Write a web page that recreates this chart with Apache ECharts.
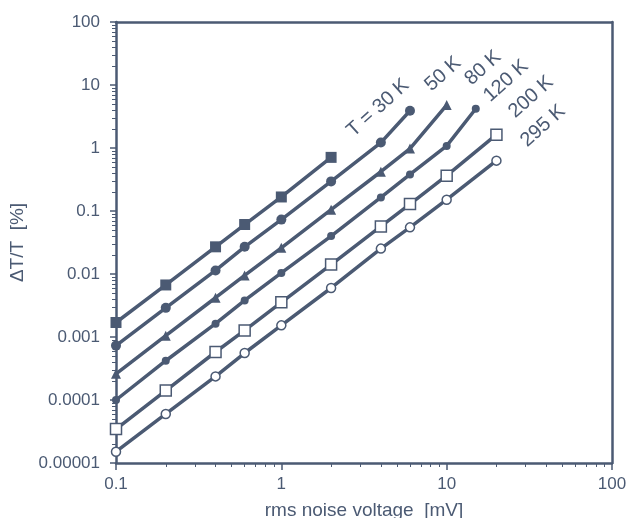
<!DOCTYPE html>
<html>
<head>
<meta charset="utf-8">
<script src="https://cdn.jsdelivr.net/npm/echarts@6/dist/echarts.min.js"></script>
<style>
  html, body { margin: 0; padding: 0; background: #fff; }
  #main { width: 635px; height: 518px; }
</style>
</head>
<body>
<div id="main"></div>
<script>
// rms noise voltage [mV]
var xVals = [0.1, 0.2, 0.4, 0.6, 1, 2, 4, 6, 10, 15, 20];

// ΔT/T [%] per temperature
var t30 = [0.0017, 0.0067, 0.027, 0.061, 0.167, 0.71];
var t50 = [0.00073, 0.0029, 0.0114, 0.027, 0.073, 0.295, 1.22, 3.9];
var t80 = [0.00026, 0.00105, 0.0042, 0.0095, 0.026, 0.105, 0.42, 0.98, 4.8];
var t120 = [0.0001, 0.00042, 0.00163, 0.0038, 0.0104, 0.04, 0.164, 0.38, 1.08, 4.2];
var t200 = [0.0000346, 0.000141, 0.000578, 0.00127, 0.00355, 0.0141, 0.057, 0.129, 0.364, 1.63];
var t295 = [0.0000151, 0.00006, 0.000237, 0.000557, 0.00153, 0.006, 0.0253, 0.055, 0.151, 0.63];

// x positions for series that skip 15 mV
var xNo15 = [0.1, 0.2, 0.4, 0.6, 1, 2, 4, 6, 10, 20];

var yTickLabels = ['0.00001', '0.0001', '0.001', '0.01', '0.1', '1', '10', '100'];
var xTickLabels = ['0.1', '1', '10', '100'];

var xMinor = [0.2,0.3,0.4,0.5,0.6,0.7,0.8,0.9,2,3,4,5,6,7,8,9,20,30,40,50,60,70,80,90];
var yMinor = [];
for (var e = -5; e < 2; e++) {
    for (var m = 2; m <= 9; m++) {
        yMinor.push(m * Math.pow(10, e));
    }
}

var ink = '#4b5a73';
var font = 'Liberation Sans';

function pairs(xs, ys) {
    return ys.map(function (y, i) { return [xs[i], y]; });
}

function makeSeries(name, data, symbol, size, filled) {
    return {
        name: name,
        type: 'line',
        xAxisIndex: 0,
        yAxisIndex: 0,
        data: data,
        symbol: symbol,
        symbolSize: size,
        showAllSymbol: true,
        lineStyle: { color: ink, width: 3.5 },
        itemStyle: {
            color: filled ? ink : '#ffffff',
            borderColor: ink,
            borderWidth: filled ? 0 : 1.5
        },
        emphasis: { disabled: true },
        z: 3
    };
}

var myChart = echarts.init(document.getElementById('main'));

var axisLineStyle = { lineStyle: { color: ink, width: 2.5 } };

var option = {
    animation: false,
    backgroundColor: '#ffffff',
    grid: {
        left: 116, top: 22, right: 23, bottom: 55, show: false,
        containLabel: false, outerBoundsMode: 'none'
    },
    xAxis: [{
        type: 'log',
        min: 0.1,
        max: 100,
        logBase: 10,
        name: 'rms noise voltage  [mV]',
        nameLocation: 'middle',
        nameGap: 38,
        nameTextStyle: { color: ink, fontSize: 19, fontFamily: font },
        axisLine: axisLineStyle,
        axisTick: { show: true, length: 7, lineStyle: { color: ink, width: 1.5 } },
        axisLabel: {
            color: ink, fontSize: 17, fontFamily: font, margin: 13,
            formatter: function (v) { return xTickLabels[Math.round(Math.log10(v)) + 1]; }
        },
        splitLine: { show: false }
    }, {
        type: 'log',
        min: 0.1,
        max: 100,
        position: 'bottom',
        axisLine: { show: false },
        axisTick: { show: true, length: 4, customValues: xMinor, lineStyle: { color: ink, width: 1 } },
        axisLabel: { show: false },
        splitLine: { show: false }
    }, {
        type: 'log',
        min: 0.1,
        max: 100,
        position: 'top',
        axisLine: axisLineStyle,
        axisTick: { show: false },
        axisLabel: { show: false },
        splitLine: { show: false }
    }],
    yAxis: [{
        type: 'log',
        min: 0.00001,
        max: 100,
        logBase: 10,
        name: 'ΔT/T  [%]',
        nameLocation: 'middle',
        nameGap: 86,
        nameTextStyle: { color: ink, fontSize: 19, fontFamily: font },
        axisLine: axisLineStyle,
        axisTick: { show: true, length: 6, lineStyle: { color: ink, width: 1.5 } },
        axisLabel: {
            color: ink, fontSize: 17, fontFamily: font, margin: 16,
            formatter: function (v) { return yTickLabels[Math.round(Math.log10(v)) + 5]; }
        },
        splitLine: { show: false }
    }, {
        type: 'log',
        min: 0.00001,
        max: 100,
        position: 'left',
        axisLine: { show: false },
        axisTick: { show: true, length: 4, customValues: yMinor, lineStyle: { color: ink, width: 1 } },
        axisLabel: { show: false },
        splitLine: { show: false }
    }, {
        type: 'log',
        min: 0.00001,
        max: 100,
        position: 'right',
        axisLine: axisLineStyle,
        axisTick: { show: false },
        axisLabel: { show: false },
        splitLine: { show: false }
    }],
    series: [
        makeSeries('30 K', pairs(xVals, t30), 'rect', 11, true),
        makeSeries('50 K', pairs(xVals, t50), 'circle', 10, true),
        makeSeries('80 K', pairs(xVals, t80), 'triangle', 10, true),
        makeSeries('120 K', pairs(xVals, t120), 'circle', 8, true),
        makeSeries('200 K', pairs(xNo15, t200), 'rect', 11, false),
        makeSeries('295 K', pairs(xNo15, t295), 'circle', 9, false)
    ],
    graphic: []
};

// rotated temperature annotations
var tagText = ['T = 30 K', '50 K', '80 K', '120 K', '200 K', '295 K'];
var tagPos = [[378, 108], [443, 74], [483, 68], [506, 81], [531, 97], [543, 126]];
tagText.forEach(function (t, i) {
    option.graphic.push({
        type: 'text',
        x: tagPos[i][0],
        y: tagPos[i][1],
        rotation: 42 * Math.PI / 180,
        style: {
            text: t,
            fill: ink,
            font: '20px "Liberation Sans"',
            align: 'center',
            verticalAlign: 'middle'
        },
        z: 10
    });
});

option && myChart.setOption(option);
</script>
</body>
</html>
